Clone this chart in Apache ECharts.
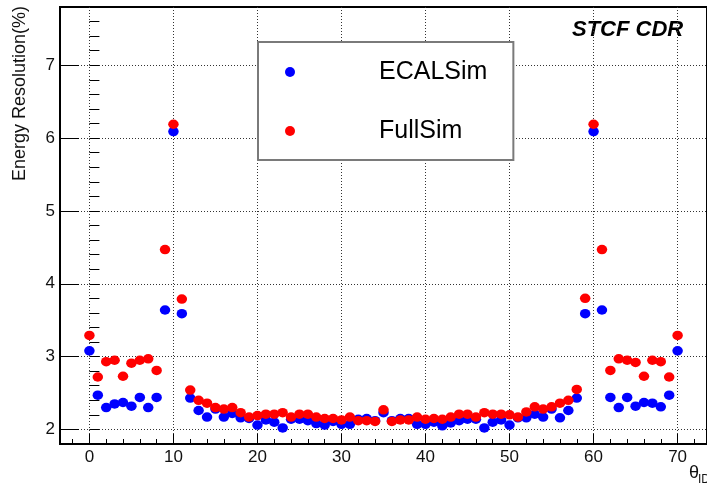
<!DOCTYPE html>
<html>
<head>
<meta charset="utf-8">
<script src="https://cdn.jsdelivr.net/npm/echarts@6/dist/echarts.min.js"></script>
<style>
  html, body { margin: 0; padding: 0; background: #fff; }
  #chart { width: 707px; height: 485px; }
</style>
</head>
<body>
<div id="chart"></div>
<script>
// Energy resolution per theta ring, two simulation chains
const thetaId = [
  0, 1, 2, 3, 4, 5, 6, 7, 8, 9, 10, 11, 12, 13, 14, 15, 16, 17, 18, 19,
  20, 21, 22, 23, 24, 25, 26, 27, 28, 29, 30, 31, 32, 33, 34, 35, 36, 37, 38, 39,
  40, 41, 42, 43, 44, 45, 46, 47, 48, 49, 50, 51, 52, 53, 54, 55, 56, 57, 58, 59,
  60, 61, 62, 63, 64, 65, 66, 67, 68, 69, 70
];
const ecalSim = [
  3.08, 2.47, 2.30, 2.35, 2.37, 2.32, 2.44, 2.30, 2.44, 3.64,
  6.09, 3.59, 2.43, 2.26, 2.17, 2.28, 2.17, 2.22, 2.16, 2.15,
  2.06, 2.13, 2.10, 2.02, 2.14, 2.14, 2.12, 2.08, 2.06, 2.11,
  2.07, 2.07, 2.14, 2.15, 2.12, 2.23, 2.12, 2.15, 2.15, 2.07,
  2.07, 2.10, 2.05, 2.09, 2.12, 2.14, 2.14, 2.02, 2.10, 2.13,
  2.06, 2.16, 2.16, 2.21, 2.17, 2.28, 2.16, 2.26, 2.43, 3.59,
  6.09, 3.64, 2.44, 2.30, 2.44, 2.32, 2.37, 2.36, 2.31, 2.47,
  3.08
];
const fullSim = [
  3.29, 2.72, 2.93, 2.95, 2.73, 2.91, 2.95, 2.97, 2.81, 4.47,
  6.19, 3.79, 2.54, 2.40, 2.36, 2.30, 2.28, 2.30, 2.23, 2.17,
  2.19, 2.21, 2.21, 2.23, 2.17, 2.21, 2.21, 2.17, 2.15, 2.15,
  2.13, 2.17, 2.12, 2.12, 2.11, 2.27, 2.11, 2.13, 2.13, 2.17,
  2.14, 2.15, 2.14, 2.17, 2.21, 2.21, 2.17, 2.23, 2.21, 2.21,
  2.20, 2.17, 2.24, 2.31, 2.28, 2.31, 2.36, 2.40, 2.55, 3.80,
  6.19, 4.47, 2.81, 2.97, 2.95, 2.92, 2.73, 2.95, 2.93, 2.72,
  3.29
];

// Tick positions
const xMajorTicks = [0, 10, 20, 30, 40, 50, 60, 70];
const xMinorTicks = [-2, 0, 2, 4, 6, 8, 10, 12, 14, 16, 18, 20, 22, 24, 26, 28, 30, 32, 34,
  36, 38, 40, 42, 44, 46, 48, 50, 52, 54, 56, 58, 60, 62, 64, 66, 68, 70, 72];
const yMajorTicks = [2, 3, 4, 5, 6, 7];
const yMinorTicks = [2, 2.2, 2.4, 2.6, 2.8, 3, 3.2, 3.4, 3.6, 3.8, 4, 4.2, 4.4, 4.6, 4.8,
  5, 5.2, 5.4, 5.6, 5.8, 6, 6.2, 6.4, 6.6, 6.8, 7, 7.2, 7.4, 7.6];

const X_MIN = -3.5, X_MAX = 73.5;
const Y_MIN = 1.8, Y_MAX = 7.8;
const FONT = '"Liberation Sans", Arial, Helvetica, sans-serif';
const MARKER = [10.5, 9.5];

const pairs = (ys) => thetaId.map((t, i) => [t, ys[i]]);

const chart = echarts.init(document.getElementById('chart'), null, { renderer: 'canvas' });

chart.setOption({
  animation: false,
  backgroundColor: '#fff',
  grid: {
    left: 60, top: 7, width: 653, height: 437,
    show: true, borderColor: '#000', borderWidth: 2, backgroundColor: 'transparent'
  },
  legend: {
    orient: 'vertical',
    left: 258, top: 42,
    padding: [15, 26, 14, 27],
    itemWidth: 10, itemHeight: 10, itemGap: 29,
    icon: 'circle',
    backgroundColor: '#fff',
    borderColor: '#7a7a7a', borderWidth: 2, borderRadius: 0,
    textStyle: { fontFamily: FONT, fontSize: 25, color: '#000', lineHeight: 30, padding: [0, 0, 0, 79] },
    data: ['ECALSim', 'FullSim']
  },
  xAxis: [
    {
      type: 'value', min: X_MIN, max: X_MAX, position: 'bottom',
      axisLine: { show: true, onZero: false, lineStyle: { color: '#000', width: 2 } },
      axisTick: { show: true, inside: true, length: 10, customValues: xMajorTicks, lineStyle: { color: '#000', width: 1 } },
      axisLabel: { customValues: xMajorTicks, margin: 5, fontFamily: FONT, fontSize: 17, color: '#111' },
      splitLine: { show: true, lineStyle: { color: '#333', width: 1, type: [1, 2] } }
    },
    {
      type: 'value', min: X_MIN, max: X_MAX, position: 'bottom',
      axisLine: { show: false },
      axisTick: { show: true, inside: true, length: 5, customValues: xMinorTicks, lineStyle: { color: '#000', width: 1 } },
      axisLabel: { show: false },
      splitLine: { show: false }
    }
  ],
  yAxis: [
    {
      type: 'value', min: Y_MIN, max: Y_MAX, position: 'left',
      axisLine: { show: true, onZero: false, lineStyle: { color: '#000', width: 2 } },
      axisTick: { show: true, inside: true, length: 19, customValues: yMajorTicks, lineStyle: { color: '#000', width: 1 } },
      axisLabel: { customValues: yMajorTicks, margin: 5, fontFamily: FONT, fontSize: 17, color: '#111' },
      splitLine: { show: true, lineStyle: { color: '#333', width: 1, type: [1, 2] } }
    },
    {
      type: 'value', min: Y_MIN, max: Y_MAX, position: 'left',
      axisLine: { show: false },
      axisTick: { show: true, inside: true, length: 10, customValues: yMinorTicks, lineStyle: { color: '#000', width: 1 } },
      axisLabel: { show: false },
      splitLine: { show: false }
    }
  ],
  series: [
    {
      name: 'ECALSim', type: 'scatter', xAxisIndex: 0, yAxisIndex: 0,
      symbol: 'circle', symbolSize: MARKER,
      itemStyle: { color: '#0000ff', opacity: 1 },
      data: pairs(ecalSim)
    },
    {
      name: 'FullSim', type: 'scatter', xAxisIndex: 0, yAxisIndex: 0,
      symbol: 'circle', symbolSize: MARKER,
      itemStyle: { color: '#ff0000', opacity: 1 },
      data: pairs(fullSim)
    }
  ],
  graphic: [
    {
      type: 'text', x: 20, y: 93.5, rotation: Math.PI / 2,
      style: { text: 'Energy Resolution(%)', font: '18px ' + FONT, fill: '#111', textAlign: 'center', textVerticalAlign: 'middle' }
    },
    {
      type: 'text', x: 572, y: 29.5,
      style: { text: 'STCF CDR', font: 'italic bold 22px ' + FONT, fill: '#000', textAlign: 'left', textVerticalAlign: 'middle' }
    },
    {
      type: 'text', x: 689, y: 473.5,
      style: { text: 'θ', font: '18px ' + FONT, fill: '#111', textAlign: 'left', textVerticalAlign: 'middle' }
    },
    {
      type: 'text', x: 698, y: 479.5,
      style: { text: 'ID', font: '12px ' + FONT, fill: '#111', textAlign: 'left', textVerticalAlign: 'middle' }
    }
  ]
});
</script>
</body>
</html>
